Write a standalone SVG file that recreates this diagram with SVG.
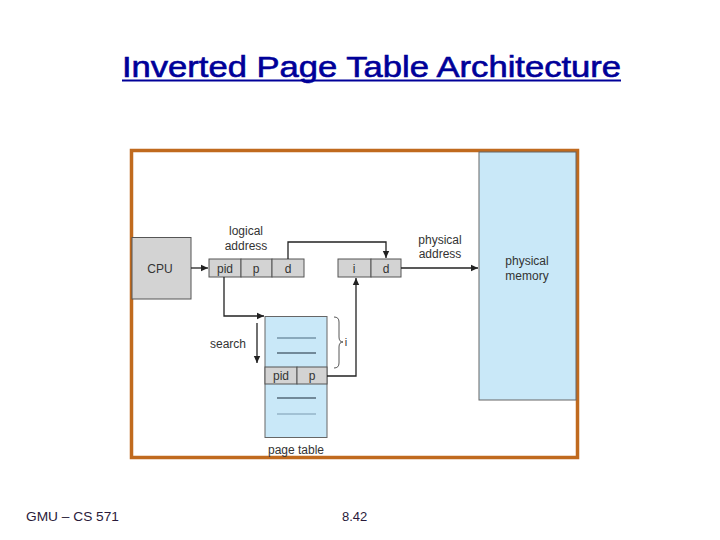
<svg xmlns="http://www.w3.org/2000/svg" width="720" height="540" viewBox="0 0 720 540">
<defs>
<marker id="ah" markerWidth="8" markerHeight="8" refX="7" refY="4" orient="auto" markerUnits="userSpaceOnUse">
<path d="M0,0.8 L7,4 L0,7.2 z" fill="#222"/>
</marker>
<style>
text{font-family:"Liberation Sans",Arial,sans-serif;fill:#333;font-size:12px}
.c{text-anchor:middle}
.cell{fill:#d3d3d3;stroke:#555;stroke-width:1}
.blue{fill:#c9e8f8;stroke:#666;stroke-width:1}
.ln{fill:none;stroke:#222;stroke-width:1.3}
</style>
</defs>
<rect width="720" height="540" fill="#fff"/>
<g id="title">
<text x="122" y="77" textLength="499" lengthAdjust="spacingAndGlyphs" style="font-size:29px;fill:#000099;stroke:#000099;stroke-width:0.6">Inverted Page Table Architecture</text>
<line x1="122" y1="80.5" x2="621" y2="80.5" stroke="#000099" stroke-width="2"/>
</g>
<g id="frame">
<rect x="131.5" y="150.5" width="446" height="307" fill="none" stroke="#c06a1e" stroke-width="3.5"/>
</g>
<g id="physical-memory">
<rect x="479" y="152" width="97" height="248" class="blue"/>
<text x="527" y="265" class="c">physical</text>
<text x="527" y="280" class="c">memory</text>
</g>
<g id="cpu">
<rect x="132" y="237.5" width="59" height="61.5" class="cell"/>
<text x="160" y="273" class="c">CPU</text>
</g>
<g id="logical-address">
<rect x="209" y="259" width="32" height="18" class="cell"/>
<rect x="241" y="259" width="31" height="18" class="cell"/>
<rect x="272" y="259" width="32" height="18" class="cell"/>
<text x="225" y="273" class="c">pid</text>
<text x="256" y="273" class="c">p</text>
<text x="288" y="273" class="c">d</text>
<text x="246" y="235" class="c">logical</text>
<text x="246" y="250" class="c">address</text>
</g>
<g id="physical-address">
<rect x="338" y="259" width="33" height="18" class="cell"/>
<rect x="371" y="259" width="30" height="18" class="cell"/>
<text x="354" y="273" class="c">i</text>
<text x="386" y="273" class="c">d</text>
<text x="440" y="244" class="c">physical</text>
<text x="440" y="258" class="c">address</text>
</g>
<g id="page-table">
<rect x="265" y="316.5" width="62" height="121" class="blue"/>
<rect x="265" y="367" width="32" height="17" class="cell"/>
<rect x="297" y="367" width="30" height="17" class="cell"/>
<text x="281" y="380" class="c">pid</text>
<text x="312" y="380" class="c">p</text>
<line x1="277" y1="338" x2="316" y2="338" stroke="#4a6a80" stroke-width="1"/>
<line x1="277" y1="353" x2="316" y2="353" stroke="#1a2a3a" stroke-width="1.2"/>
<line x1="277" y1="398" x2="316" y2="398" stroke="#1a2a3a" stroke-width="1.2"/>
<line x1="277" y1="414" x2="316" y2="414" stroke="#7a9ab0" stroke-width="1"/>
<text x="296" y="454" class="c">page table</text>
</g>
<g id="connectors">
<line x1="191" y1="268" x2="208" y2="268" class="ln" marker-end="url(#ah)"/>
<polyline points="288,259 288,242 386,242 386,258" class="ln" marker-end="url(#ah)"/>
<line x1="401" y1="268" x2="478" y2="268" class="ln" marker-end="url(#ah)"/>
<polyline points="224,277 224,316 264,316" class="ln" marker-end="url(#ah)"/>
<polyline points="327,376 356,376 356,278" class="ln" marker-end="url(#ah)"/>
<line x1="257" y1="323" x2="257" y2="363" class="ln" marker-end="url(#ah)"/>
<text x="228" y="348" class="c">search</text>
<path d="M334,317 Q339,317 339,322 L339,337 Q339,342 343,342 Q339,342 339,347 L339,363 Q339,368 334,368" fill="none" stroke="#444" stroke-width="0.9"/>
<text x="346" y="346" class="c" style="font-size:11px">i</text>
</g>
<g id="footer">
<text x="26" y="521" textLength="93" lengthAdjust="spacingAndGlyphs" style="font-size:13px;fill:#2a1a3a">GMU – CS 571</text>
<text x="342" y="521" style="font-size:13px;fill:#2a1a3a">8.42</text>
</g>
</svg>
